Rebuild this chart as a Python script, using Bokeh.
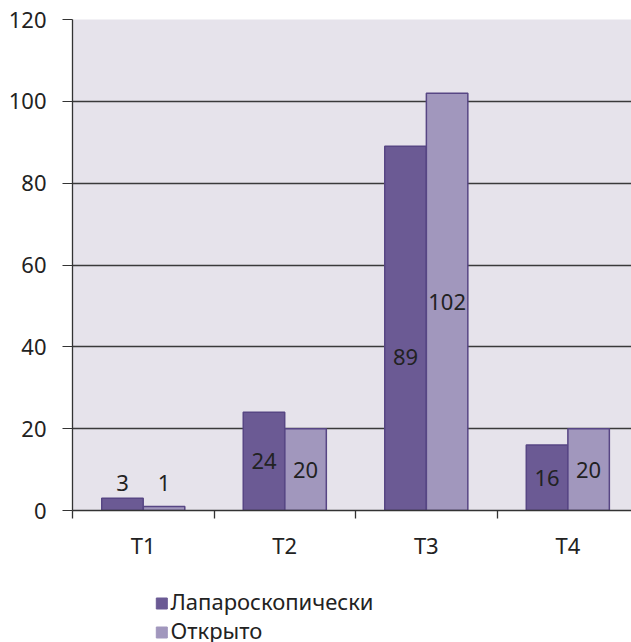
from bokeh.plotting import figure
from bokeh.layouts import column
from bokeh.models import (ColumnDataSource, FixedTicker, Range1d)
from bokeh.core.properties import value
from bokeh.embed import file_html
from bokeh.resources import INLINE

categories = ["T1", "T2", "T3", "T4"]
series_names = ["Лапароскопически", "Открыто"]
lap = [3, 24, 89, 16]
opn = [1, 20, 102, 20]
lap_label_y = [6.8, 12, 37.4, 8]
opn_label_y = [6.8, 10, 51, 10]
y_ticks = [0, 20, 40, 60, 80, 100, 120]

FONT = "Noto Sans"
FS = "22px"
DARK = "#6b5a94"
LIGHT = "#a197bd"
EDGE = "#574684"
BG = "#e6e3eb"
TXT = "#222222"

p = figure(width=631, height=588, output_backend="svg", toolbar_location=None,
           x_range=Range1d(0, 3.95), y_range=Range1d(0, 120),
           min_border_left=72, min_border_right=0, min_border_top=19,
           min_border_bottom=78)
p.background_fill_color = BG
p.border_fill_color = "white"
p.outline_line_color = None

n = len(categories)
centers = [i + 0.5 for i in range(n)]
off = 0.147
w = 0.293
src = ColumnDataSource(dict(
    xl=[c - off for c in centers], xo=[c + off for c in centers],
    lap=lap, opn=opn,
    lap_txt=[str(v) for v in lap], opn_txt=[str(v) for v in opn],
    lap_ly=lap_label_y, opn_ly=opn_label_y,
))

p.vbar(x="xl", top="lap", width=w, source=src, fill_color=DARK,
       line_color=EDGE, line_width=1.5)
p.vbar(x="xo", top="opn", width=w, source=src, fill_color=LIGHT,
       line_color=EDGE, line_width=1.5)

p.text(x="xl", y="lap_ly", text="lap_txt", source=src, text_align="center",
       text_baseline="middle", text_font=value(FONT), text_font_size=FS,
       text_color=TXT)
p.text(x="xo", y="opn_ly", text="opn_txt", source=src, text_align="center",
       text_baseline="middle", text_font=value(FONT), text_font_size=FS,
       text_color=TXT)

p.xgrid.visible = False
p.ygrid.ticker = FixedTicker(ticks=y_ticks)
p.ygrid.grid_line_color = "#3a3a3a"
p.ygrid.grid_line_width = 1.3

p.yaxis.ticker = FixedTicker(ticks=y_ticks)
p.yaxis.axis_line_color = "#333333"
p.yaxis.axis_line_width = 1.3
p.yaxis.major_tick_in = 0
p.yaxis.major_tick_out = 10
p.yaxis.major_tick_line_color = "#333333"
p.yaxis.minor_tick_line_color = None
p.yaxis.major_label_standoff = 16
p.yaxis.major_label_text_font = FONT
p.yaxis.major_label_text_font_size = FS
p.yaxis.major_label_text_color = TXT

p.xaxis.ticker = FixedTicker(ticks=centers, minor_ticks=[0, 1, 2, 3, 4])
p.xaxis.major_label_overrides = {c: lbl for c, lbl in zip(centers, categories)}
p.xaxis.axis_line_color = "#333333"
p.xaxis.axis_line_width = 1.3
p.xaxis.major_tick_line_color = None
p.xaxis.major_tick_out = 0
p.xaxis.major_tick_in = 0
p.xaxis.minor_tick_in = 0
p.xaxis.minor_tick_out = 8
p.xaxis.minor_tick_line_color = "#333333"
p.xaxis.minor_tick_line_width = 1.3
p.xaxis.major_label_standoff = 11
p.xaxis.major_label_text_font = FONT
p.xaxis.major_label_text_font_size = FS
p.xaxis.major_label_text_color = TXT

# legend panel: the column aligns its frame with the chart frame (x 72..631)
p2 = figure(width=631, height=54, output_backend="svg", toolbar_location=None,
            x_range=Range1d(72, 631), y_range=Range1d(0, 54),
            x_axis_location=None, y_axis_location=None,
            min_border_left=0, min_border_right=0, min_border_top=0,
            min_border_bottom=0)
p2.grid.visible = False
p2.outline_line_color = None
p2.background_fill_color = "white"
p2.border_fill_color = "white"

leg = ColumnDataSource(dict(
    sx=[161.3, 161.3], sy=[39, 10], tx=[170, 170], ty=[42, 13],
    color=[DARK, LIGHT], label=series_names,
))
p2.rect(x="sx", y="sy", width=11, height=11, source=leg, fill_color="color",
        line_color="color")
p2.text(x="tx", y="ty", text="label", source=leg, text_align="left",
        text_baseline="middle", text_font=value(FONT), text_font_size=FS,
        text_color=TXT)

open("out.html", "w").write(file_html(column(p, p2, spacing=0), INLINE))
